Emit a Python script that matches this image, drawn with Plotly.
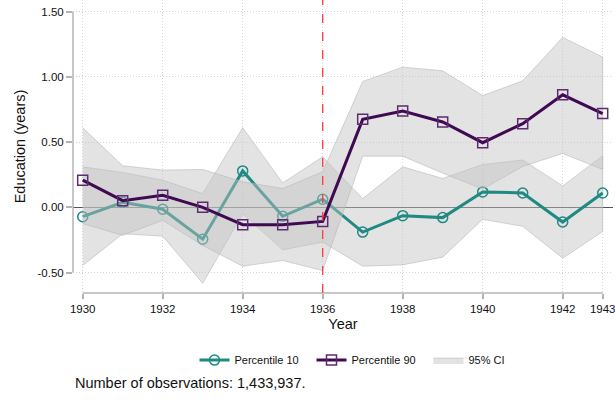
import plotly.graph_objects as go

years = list(range(1930, 1944))
p10 = [-0.072, 0.038, -0.015, -0.244, 0.279, -0.069, 0.062, -0.190, -0.064, -0.079, 0.118, 0.110, -0.113, 0.110]
p10_lo = [-0.446, -0.203, -0.221, -0.582, -0.050, -0.326, -0.267, -0.451, -0.441, -0.382, -0.092, -0.146, -0.390, -0.185]
p10_hi = [0.310, 0.267, 0.208, 0.105, 0.610, 0.187, 0.387, 0.067, 0.310, 0.221, 0.328, 0.362, 0.164, 0.395]
p90 = [0.208, 0.051, 0.092, 0.000, -0.133, -0.133, -0.108, 0.674, 0.738, 0.654, 0.495, 0.641, 0.862, 0.718]
p90_lo = [-0.125, -0.215, -0.100, -0.292, -0.451, -0.408, -0.485, 0.392, 0.392, 0.262, 0.140, 0.313, 0.413, 0.290]
p90_hi = [0.610, 0.318, 0.285, 0.290, 0.195, 0.144, 0.272, 0.964, 1.074, 1.046, 0.856, 0.969, 1.302, 1.151]

xticks = [1930, 1932, 1934, 1936, 1938, 1940, 1942, 1943]
yticks = [1.5, 1.0, 0.5, 0.0, -0.5]
yticklabels = ["1.50", "1.00", "0.50", "0.00", "-0.50"]
treat_year = 1936
note = "Number of observations: 1,433,937."

TEAL = "#1f8a82"
PURPLE = "#3f0a52"
PURPLE_MK = "#5e2a72"
BAND_FILL = "rgba(194,194,194,0.46)"
BAND_LINE = "rgba(185,185,185,0.6)"
FONT = "Liberation Sans, Arial, sans-serif"

fig = go.Figure()

def band(lo, hi, show):
    return go.Scatter(
        x=years + years[::-1], y=hi + lo[::-1], fill="toself",
        fillcolor=BAND_FILL, line=dict(color=BAND_LINE, width=1),
        mode="lines", name="95% CI", showlegend=show, legendrank=3,
        hoverinfo="skip")

fig.add_trace(band(p10_lo, p10_hi, False))
fig.add_trace(go.Scatter(
    x=years, y=p10, mode="lines+markers", name="Percentile 10", legendrank=1,
    line=dict(color=TEAL, width=3),
    marker=dict(symbol="circle-open", size=10, color=TEAL, line=dict(width=1.5, color=TEAL))))
fig.add_trace(band(p90_lo, p90_hi, True))
fig.add_trace(go.Scatter(
    x=years, y=p90, mode="lines+markers", name="Percentile 90", legendrank=2,
    line=dict(color=PURPLE, width=3),
    marker=dict(symbol="square-open", size=10, color=PURPLE_MK, line=dict(width=1.5, color=PURPLE_MK))))

# axis lines spanning only tick range
fig.add_shape(type="line", xref="paper", yref="y", x0=0, x1=0, y0=-0.5, y1=1.5,
              line=dict(color="#b4b4b4", width=1.5), layer="above")
fig.add_shape(type="line", xref="x", yref="paper", x0=1930, x1=1943, y0=0, y1=0,
              line=dict(color="#b4b4b4", width=1.5), layer="above")
# treatment line
fig.add_shape(type="line", xref="x", yref="paper", x0=treat_year, x1=treat_year, y0=0, y1=1,
              line=dict(color="#ff3b3b", width=1.3, dash="dash"), layer="above")

fig.add_annotation(text=note, xref="paper", yref="paper", x=0.0, y=-0.307,
                   xanchor="left", yanchor="middle", showarrow=False,
                   font=dict(family=FONT, size=14.5, color="#111111"))

fig.update_xaxes(
    range=[1929.7575, 1943.2575], tickmode="array", tickvals=xticks, automargin=False,
    ticktext=[str(t) for t in xticks], ticks="outside", ticklen=5, tickcolor="#b4b4b4",
    tickwidth=1.5, showline=False, zeroline=False, ticklabeloverflow="allow",
    ticklabelstandoff=0,
    showgrid=True, gridcolor="#d6d6d6", griddash="1px,2px", gridwidth=1,
    tickfont=dict(family=FONT, size=11.5, color="#111111"),
    title=dict(text="Year", font=dict(family=FONT, size=14.5, color="#111111"), standoff=5))
fig.update_yaxes(
    range=[-0.6567, 1.5885], tickmode="array", tickvals=yticks, ticktext=yticklabels,
    automargin=False,
    ticks="outside", ticklen=6, tickcolor="#b4b4b4", tickwidth=1.5,
    showline=False, zeroline=True, zerolinecolor="#555555", zerolinewidth=1,
    showgrid=True, gridcolor="#d6d6d6", griddash="1px,2px", gridwidth=1,
    tickfont=dict(family=FONT, size=11.5, color="#111111"),
    title=dict(text="Education (years)", font=dict(family=FONT, size=14.5, color="#111111"), standoff=8))

fig.update_layout(
    width=615, height=400, autosize=False,
    margin=dict(l=73, r=2, t=0, b=107),
    plot_bgcolor="white", paper_bgcolor="white",
    font=dict(family=FONT, color="#111111"),
    legend=dict(orientation="h", x=0.55, xanchor="center", y=-0.229, yanchor="middle",
                font=dict(family=FONT, size=11, color="#111111"),
                itemwidth=30, entrywidth=72, traceorder="normal", bgcolor="rgba(0,0,0,0)"),
)

fig.write_html("out.html", config={"displayModeBar": False},
               post_script="document.body.style.margin='0';document.body.style.padding='0';")
